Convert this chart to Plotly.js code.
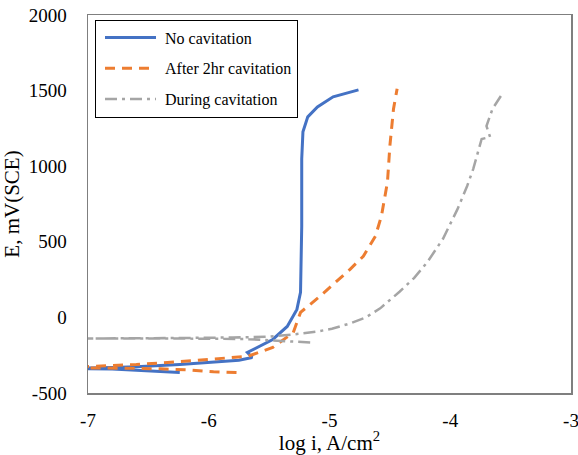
<!DOCTYPE html>
<html><head><meta charset="utf-8">
<script src="https://cdn.plot.ly/plotly-3.0.1.min.js"></script>
<style>html,body{margin:0;padding:0;background:#fff}#chart{width:578px;height:455px}</style>
</head><body><div id="chart"></div>
<script>
// No cavitation (cathodic branch then anodic branch)
const noCavX = [-6.24,-6.40,-6.57,-6.80,-7.05, -7.05,-6.80,-6.60,-6.24,-5.90,-5.75,-5.64,-5.68,-5.47,-5.35,-5.27,-5.24,-5.23,-5.23,-5.22,-5.18,-5.10,-4.97,-4.76];
const noCavY = [-365,-358,-348,-342,-340, -336,-332,-327,-312,-295,-283,-265,-232,-146,-60,53,166,603,1048,1227,1326,1392,1459,1505];
// After 2hr cavitation
const after2hX = [-5.77,-5.96,-6.16,-6.40,-6.70,-7.05, -7.05,-6.60,-6.24,-5.68,-5.47,-5.30,-5.24,-5.16,-5.08,-4.83,-4.72,-4.62,-4.57,-4.52,-4.50,-4.47,-4.44];
const after2hY = [-365,-360,-348,-340,-336,-334, -326,-312,-292,-258,-199,-100,33,86,139,318,404,537,670,895,1134,1379,1512];
// During cavitation
const duringX = [-5.16,-5.30,-5.50,-5.70,-6.20,-7.05, -7.05,-6.20,-5.80,-5.52,-5.30,-5.10,-4.98,-4.83,-4.70,-4.58,-4.42,-4.30,-4.19,-4.06,-3.94,-3.86,-3.81,-3.78,-3.74,-3.67,-3.70,-3.65,-3.57];
const duringY = [-166,-160,-150,-143,-140,-140, -137,-136,-133,-128,-113,-93,-75,-40,0,60,170,260,365,520,716,869,981,1067,1180,1193,1266,1379,1478];

const seriesNames = ['No cavitation','After 2hr cavitation','During cavitation'];
const xTickVals = [-7,-6,-5,-4,-3];
const xTickText = ['-7','-6','-5','-4','-3'];
const yTickVals = [-500,0,500,1000,1500,2000];
const yTickText = ['-500','0','500','1000','1500','2000'];

const serif = '"Liberation Serif", "Times New Roman", serif';
const traces = [
  {x: noCavX, y: noCavY, name: seriesNames[0], mode:'lines', legendgroup:'a',
   line:{color:'#4472C4', width:3}},
  {x: after2hX, y: after2hY, name: seriesNames[1], mode:'lines', legendgroup:'b',
   line:{color:'#ED7D31', width:3, dash:'10px,7px'}},
  {x: duringX, y: duringY, name: seriesNames[2], mode:'lines', legendgroup:'c',
   line:{color:'#A5A5A5', width:2.5, dash:'12px,5px,3px,5px'}}
];
const layout = {
  width:578, height:455,
  margin:{l:88, r:7, t:15, b:62},
  paper_bgcolor:'#fff', plot_bgcolor:'#fff',
  font:{family:serif, size:16, color:'#000'},
  showlegend:true,
  legend:{x:0.0145, y:0.988, xanchor:'left', yanchor:'top', bgcolor:'#fff',
    bordercolor:'#000', borderwidth:1, font:{family:serif, size:16, color:'#000'},
    tracegroupgap:7, traceorder:'grouped', itemwidth:59},
  xaxis:{range:[-7,-3], tickvals:xTickVals, ticktext:xTickText, showgrid:false, zeroline:false,
    showline:true, mirror:true, linecolor:'#7f7f7f', linewidth:1.5, ticks:'',
    ticklabelstandoff:10, ticklabeloverflow:'allow', tickfont:{family:serif, size:19, color:'#000'},
    title:{text:'log i, A/cm<sup>2</sup>', font:{family:serif, size:21, color:'#000'}, standoff:8}},
  yaxis:{range:[-500,2000], tickvals:yTickVals, ticktext:yTickText, showgrid:false, zeroline:false,
    showline:true, mirror:true, linecolor:'#7f7f7f', linewidth:1.5, ticks:'',
    ticklabelstandoff:16, ticklabeloverflow:'allow', tickfont:{family:serif, size:19, color:'#000'},
    title:{text:'E, mV(SCE)', font:{family:serif, size:21, color:'#000'}, standoff:3}}
};
Plotly.newPlot('chart', traces, layout, {staticPlot:true, displayModeBar:false}).then(function(gd){
  // lengthen legend line samples to match the reference
  gd.querySelectorAll('.legend .legendlines path').forEach(function(p){ p.setAttribute('d','M9,0h51'); });
});
</script></body></html>
